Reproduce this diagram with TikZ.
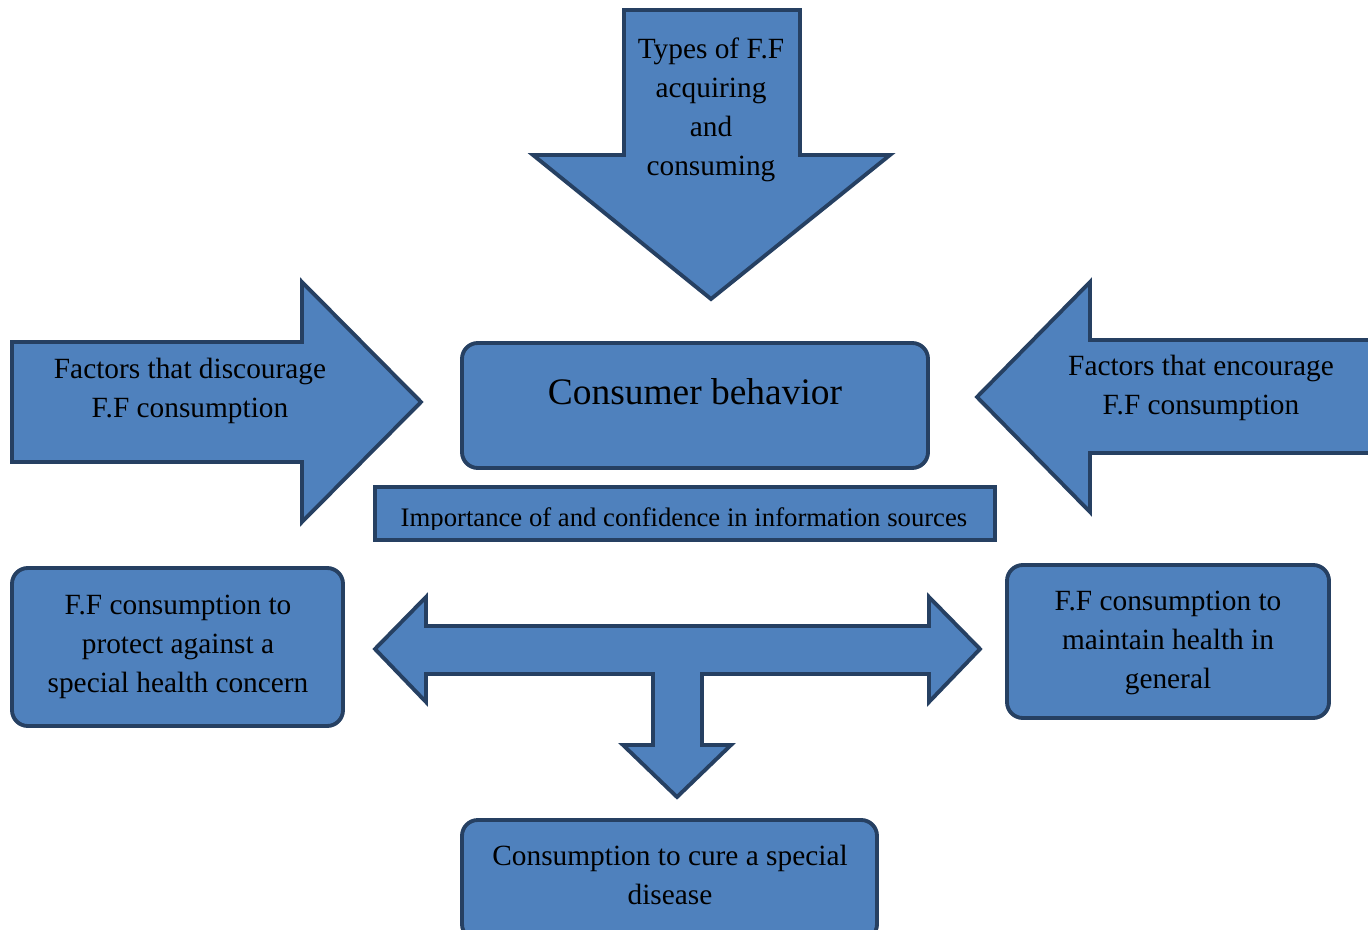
\documentclass[tikz,border=0pt]{standalone}
\usepackage{fontspec}
\setmainfont{Liberation Serif}
\usepackage{tikz}
\usetikzlibrary{positioning}
\definecolor{ShapeBlue}{RGB}{79,129,189}
\definecolor{EdgeNavy}{RGB}{38,64,98}

\begin{document}
\begin{tikzpicture}[x=0.02cm,y=-0.02cm,
	blockfill/.style={fill=ShapeBlue,draw=EdgeNavy,line width=2.2pt,line join=miter},
	box/.style={blockfill,rounded corners=9pt},
	txt/.style={align=center,inner sep=0pt,font=\fontsize{16.7}{22.2}\selectfont}]
\useasboundingbox (0,0) rectangle (1368,929);
\clip (0,0) rectangle (1368,929);
% arrows
\draw[blockfill] (624,10)--(800,10)--(800,155)--(890,155)--(711,299)--(533,155)--(624,155)--cycle;
\draw[blockfill] (12,342)--(302,342)--(302,282)--(421,402)--(302,522)--(302,462)--(12,462)--cycle;
\draw[blockfill] (1390,340)--(1090,340)--(1090,282)--(977,397)--(1090,512)--(1090,453)--(1390,453)--cycle;
\draw[blockfill] (375,649)--(426,597)--(426,626)--(929,626)--(929,597)--(980,649)--(929,702)--(929,674)
	--(702,674)--(702,745)--(731,745)--(677,797)--(623,745)--(653,745)--(653,674)--(426,674)--(426,702)--cycle;
% boxes
\draw[box] (462,343) rectangle (928,468);
\draw[blockfill] (375,487) rectangle (995,540);
\draw[box] (12,568) rectangle (343,726);
\draw[box] (1007,565) rectangle (1329,718);
\draw[box] (462,820) rectangle (877,940);
% texts
\node[txt] (types) at (711,110) {Types of F.F\\acquiring\\and\\consuming};
\node[txt] (discourage) at (190,391) {Factors that discourage\\F.F consumption};
\node[txt] (encourage) at (1201,388) {Factors that encourage\\F.F consumption};
\node[txt,font=\fontsize{21.3}{26}\selectfont] (behavior) at (695,392) {Consumer behavior};
\begin{scope}
\clip (375,487) rectangle (995,529);
\node[txt,font=\fontsize{15.2}{19}\selectfont] (sources) at (684,520) {Importance of and confidence in information sources};
\end{scope}
\node[txt] (protect) at (178,647) {F.F consumption to\\protect against a\\special health concern};
\node[txt] (maintain) at (1168,643) {F.F consumption to\\maintain health in\\general};
\node[txt] (cure) at (670,875) {Consumption to cure a special\\disease};
\end{tikzpicture}
\end{document}
